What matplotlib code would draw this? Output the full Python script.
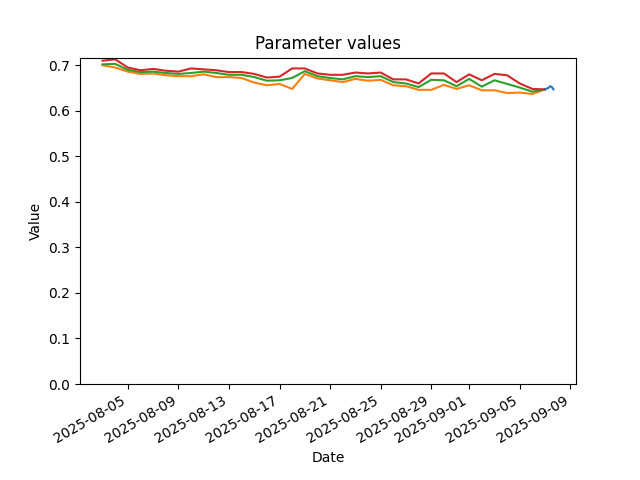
import pandas as pd
import matplotlib
matplotlib.use('Agg')
import matplotlib.pyplot as plt

# daily series 2025-08-03 .. 2025-09-07
days = pd.date_range('2025-08-03', '2025-09-07', freq='D')

param_a = [0.700, 0.695, 0.686, 0.681, 0.682, 0.678, 0.676, 0.676, 0.680, 0.674, 0.674, 0.672,
           0.662, 0.656, 0.659, 0.648, 0.681, 0.671, 0.667, 0.663, 0.670, 0.666, 0.668, 0.656,
           0.654, 0.646, 0.646, 0.657, 0.648, 0.656, 0.645, 0.645, 0.639, 0.640, 0.637, 0.647]
param_b = [0.702, 0.703, 0.690, 0.685, 0.686, 0.683, 0.681, 0.683, 0.686, 0.683, 0.679, 0.679,
           0.674, 0.666, 0.667, 0.672, 0.687, 0.676, 0.672, 0.669, 0.676, 0.674, 0.676, 0.663,
           0.660, 0.652, 0.668, 0.667, 0.654, 0.670, 0.653, 0.667, 0.659, 0.651, 0.642, 0.647]
param_c = [0.710, 0.713, 0.695, 0.689, 0.692, 0.688, 0.686, 0.693, 0.691, 0.689, 0.685, 0.685,
           0.681, 0.673, 0.675, 0.693, 0.693, 0.682, 0.679, 0.679, 0.684, 0.682, 0.684, 0.669,
           0.669, 0.660, 0.682, 0.682, 0.663, 0.680, 0.667, 0.681, 0.678, 0.660, 0.648, 0.647]

# last day, finer steps
recent_times = pd.to_datetime(['2025-09-07 01:00', '2025-09-07 06:00', '2025-09-07 10:00',
                               '2025-09-07 13:00', '2025-09-07 16:00'])
recent_vals = [0.648, 0.650, 0.654, 0.652, 0.647]

fig, ax = plt.subplots(figsize=(6.4, 4.8), dpi=100)
ax.plot(recent_times, recent_vals, zorder=3)
ax.plot(days, param_a)
ax.plot(days, param_b)
ax.plot(days, param_c)
ax.set_ylim(bottom=0)
ax.set_title('Parameter values')
ax.set_xlabel('Date')
ax.set_ylabel('Value')
fig.autofmt_xdate()
fig.savefig('out.png')
